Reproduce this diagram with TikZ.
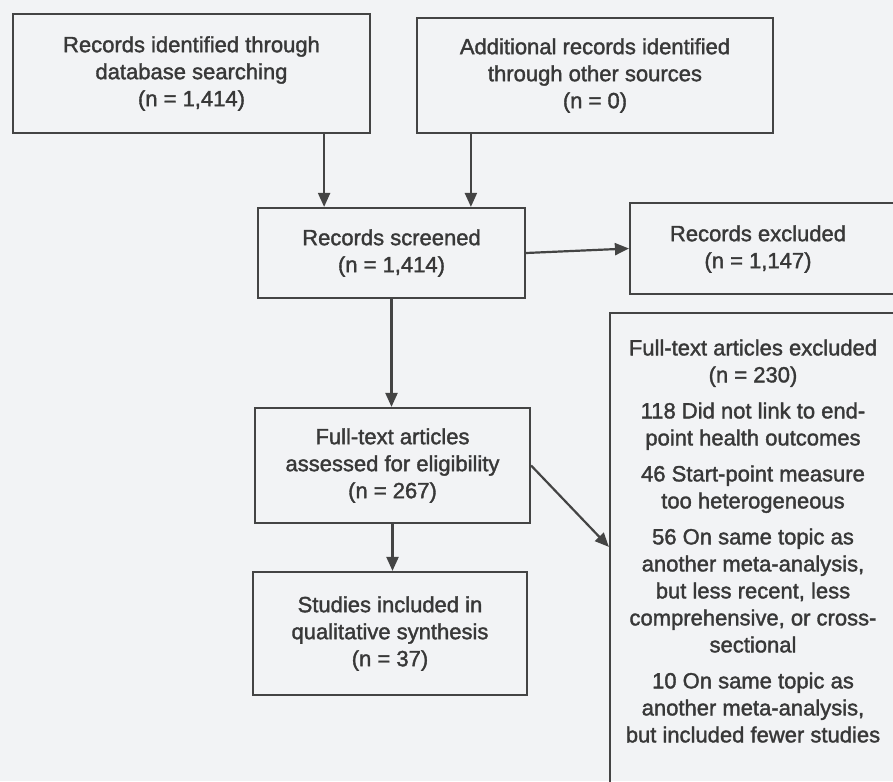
\documentclass[tikz,border=0pt]{standalone}
\usepackage{fontspec}
\setmainfont{Liberation Sans}[FakeBold=1.6]
\usetikzlibrary{arrows.meta,calc}
\definecolor{ln}{HTML}{444444}
\definecolor{tx}{HTML}{383838}
\definecolor{bg}{HTML}{F2F3F5}
\begin{document}
\begin{tikzpicture}[x=1pt,y=-1pt,
  box/.style={draw=ln,line width=2.2pt,rectangle,inner sep=0pt,align=center,text=tx,font=\fontsize{22}{27}\selectfont},
  lbl/.style={inner sep=0pt,align=center,text=tx,font=\fontsize{22}{27}\selectfont},
  arr/.style={draw=ln,line width=2.2pt,-{Triangle[width=12pt,length=14pt]}}]
\fill[bg] (0,0) rectangle (893,781);
\useasboundingbox (0,0) rectangle (893,781);
\begin{scope}
\clip (0,0) rectangle (893,781);
% left column
\node[box,minimum width=357pt,minimum height=119pt] (box1) at (191.5,73.5)
  {Records identified through\\database searching\\(n = 1,414)};
\node[box,minimum width=356pt,minimum height=115pt] (box2) at (595,75.5)
  {Additional records identified\\through other sources\\(n = 0)};
\node[box,minimum width=267pt,minimum height=90pt] (screened) at (391.5,253)
  {Records screened\\(n = 1,414)};
\node[box,minimum width=275pt,minimum height=115pt] (assessed) at (392.5,465.5)
  {Full-text articles\\assessed for eligibility\\(n = 267)};
\node[box,minimum width=274pt,minimum height=123pt] (studies) at (390,633.5)
  {Studies included in\\qualitative synthesis\\(n = 37)};
% right column (boxes run off the page)
\node[box,minimum width=272pt,minimum height=91pt] (recex) at (766,248.5) {};
\node[lbl] (recextxt) at (758,249) {Records excluded\\(n = 1,147)};
\node[box,minimum width=292pt,minimum height=487pt] (ftex) at (756,556.5) {};
\node[lbl] (ftextxt) at (753,541)
  {Full-text articles excluded\\(n = 230)\\[9pt]
   118 Did not link to end-\\point health outcomes\\[9pt]
   46 Start-point measure\\too heterogeneous\\[9pt]
   56 On same topic as\\another meta-analysis,\\but less recent, less\\comprehensive, or cross-\\sectional\\[9pt]
   10 On same topic as\\another meta-analysis,\\but included fewer studies};
% connectors
\coordinate (s1) at ($(box1.south east)+(-47,0)$);
\coordinate (s2) at ($(box2.south west)+(55,0)$);
\draw[arr] (s1) -- (s1 |- screened.north);
\draw[arr] (s2) -- (s2 |- screened.north);
\draw[arr] (screened.east) -- (recex.west);
\draw[arr] (screened.south) -- (screened.south |- assessed.north);
\draw[arr] (assessed.south) -- (assessed.south |- studies.north);
\coordinate (ftin) at ($(ftex.north west)+(0,235)$);
\draw[arr] (assessed.east) -- (ftin);
\end{scope}
\end{tikzpicture}
\end{document}
